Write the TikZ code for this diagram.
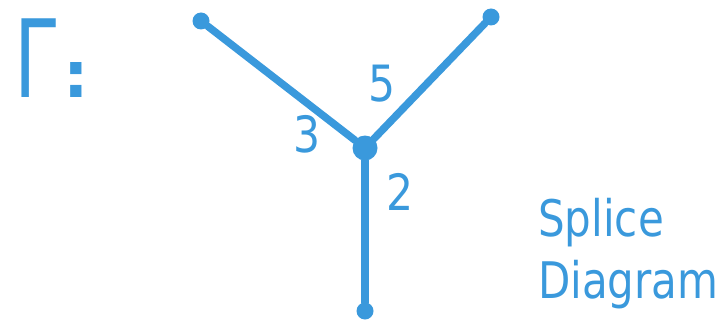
\documentclass[tikz,border=0pt]{standalone}
\usepackage{fontspec}
\setmainfont{DejaVu Sans}
\definecolor{ink}{HTML}{3A99DC}
\begin{document}
\begin{tikzpicture}[x=1pt,y=-1pt,
  leaf/.style={circle,fill=ink,inner sep=0pt,minimum size=17pt},
  hub/.style={circle,fill=ink,inner sep=0pt,minimum size=25pt},
  edge/.style={draw=ink,line width=7.5pt,line cap=round},
  lbl/.style={text=ink,font=\fontsize{50}{52}\selectfont,inner sep=0pt,xscale=0.85},
  ttl/.style={text=ink,font=\fontsize{42}{46}\selectfont,inner sep=0pt,anchor=base west,yscale=1.2}]
\useasboundingbox (0,0) rectangle (727,326);
\node[leaf] (a) at (201,21) {};
\node[leaf] (b) at (491,17) {};
\node[hub] (c) at (365,148) {};
\node[leaf] (d) at (365,311) {};
\draw[edge] (a) -- (c);
\draw[edge] (b) -- (c);
\draw[edge] (c) -- (d);
\node[lbl] (l3) at (307,134) {3};
\node[lbl] (l5) at (382,84) {5};
\node[lbl] (l2) at (400,192) {2};
\node[text=ink,font=\fontsize{108}{110}\selectfont,inner sep=0pt,anchor=base west,xscale=0.7] (g) at (14,98) {Γ};
\node[text=ink,font=\bfseries\fontsize{64}{66}\selectfont,inner sep=0pt,anchor=base] (colon) at (76,98) {:};
\node[ttl] (t1) at (538,236) {Splice};
\node[ttl] (t2) at (538,298) {Diagram};
\end{tikzpicture}
\end{document}
